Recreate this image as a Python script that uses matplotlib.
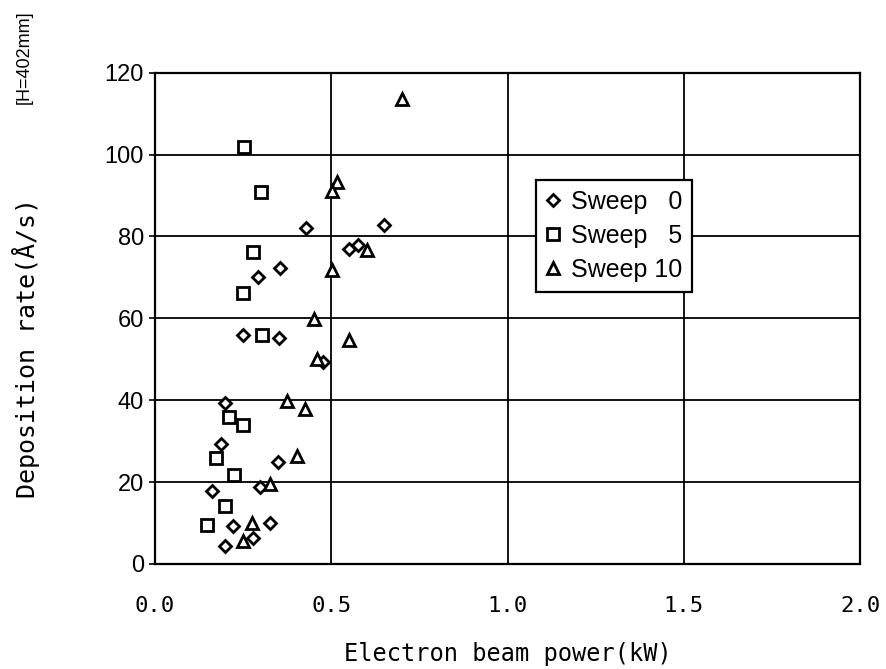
import matplotlib
matplotlib.use("Agg")
import matplotlib.pyplot as plt

# Deposition rate vs electron beam power, three sweep settings
sweep0_power = [0.199, 0.186, 0.350, 0.161, 0.298, 0.222, 0.326, 0.200, 0.277,
                0.249, 0.353, 0.477, 0.427, 0.650, 0.551, 0.577, 0.355, 0.291]
sweep0_rate = [39.2, 29.2, 24.8, 17.8, 18.9, 9.3, 9.9, 4.5, 6.3,
               56.0, 55.1, 49.3, 82.0, 82.8, 76.9, 77.9, 72.2, 70.2]

sweep5_power = [0.211, 0.251, 0.172, 0.225, 0.199, 0.148, 0.303, 0.253, 0.301,
                0.277, 0.251]
sweep5_rate = [36.0, 34.0, 26.0, 21.7, 14.2, 9.4, 56.0, 101.9, 90.8,
               76.1, 66.1]

sweep10_power = [0.374, 0.426, 0.402, 0.326, 0.274, 0.249, 0.451, 0.550, 0.460,
                 0.515, 0.501, 0.600, 0.503, 0.700]
sweep10_rate = [39.9, 37.9, 26.4, 19.5, 9.9, 5.7, 59.8, 54.7, 50.1,
                93.4, 91.2, 76.7, 71.8, 113.7]

x_ticks = [0.0, 0.5, 1.0, 1.5, 2.0]
x_ticklabels = ['0.0', '0.5', '1.0', '1.5', '2.0']
y_ticks = [0, 20, 40, 60, 80, 100, 120]

fig = plt.figure(figsize=(8.87, 6.69), dpi=100)
ax = fig.add_axes([0.1747, 0.157, 0.795, 0.7343])

mk = dict(linestyle='none', markerfacecolor='white', markeredgecolor='black',
          markeredgewidth=2.0, zorder=3)
ax.plot(sweep0_power, sweep0_rate, marker='D', markersize=6.6,
        label='Sweep   0', **mk)
ax.plot(sweep5_power, sweep5_rate, marker='s', markersize=9,
        label='Sweep   5', **mk)
ax.plot(sweep10_power, sweep10_rate, marker='^', markersize=8.5,
        label='Sweep 10', **mk)

ax.set_xlim(0, 2.0)
ax.set_ylim(0, 120)
ax.set_xticks(x_ticks)
ax.set_xticklabels(x_ticklabels, family='DejaVu Sans Mono', fontsize=16)
ax.set_yticks(y_ticks)
ax.set_yticklabels([str(v) for v in y_ticks], family='Liberation Sans',
                   fontsize=17)
ax.tick_params(axis='x', length=0, pad=23)
ax.tick_params(axis='y', length=4, width=1.2, direction='out', pad=4)

ax.grid(True, color='black', linewidth=1.3)
ax.set_axisbelow(True)
for s in ax.spines.values():
    s.set_linewidth(1.6)
    s.set_color('black')

ax.set_xlabel('Electron beam power(kW)', family='DejaVu Sans Mono',
              fontsize=17, labelpad=19)
ax.set_ylabel('Deposition rate(Å/s)', family='DejaVu Sans Mono', fontsize=18)
ax.yaxis.set_label_coords(-0.163, 0.44)

fig.text(0.027, 0.915, '[H=402mm]', rotation=90, ha='center', va='center',
         family='Liberation Sans', fontsize=13)

leg = ax.legend(loc='upper left', bbox_to_anchor=(0.54, 0.782),
                prop={'family': 'Liberation Sans', 'size': 18},
                frameon=True, fancybox=False, edgecolor='black',
                framealpha=1, handlelength=0.6, handletextpad=0.4,
                borderpad=0.4, labelspacing=0.4, borderaxespad=0)
leg.get_frame().set_linewidth(1.6)

fig.savefig('out.png', dpi=100)
